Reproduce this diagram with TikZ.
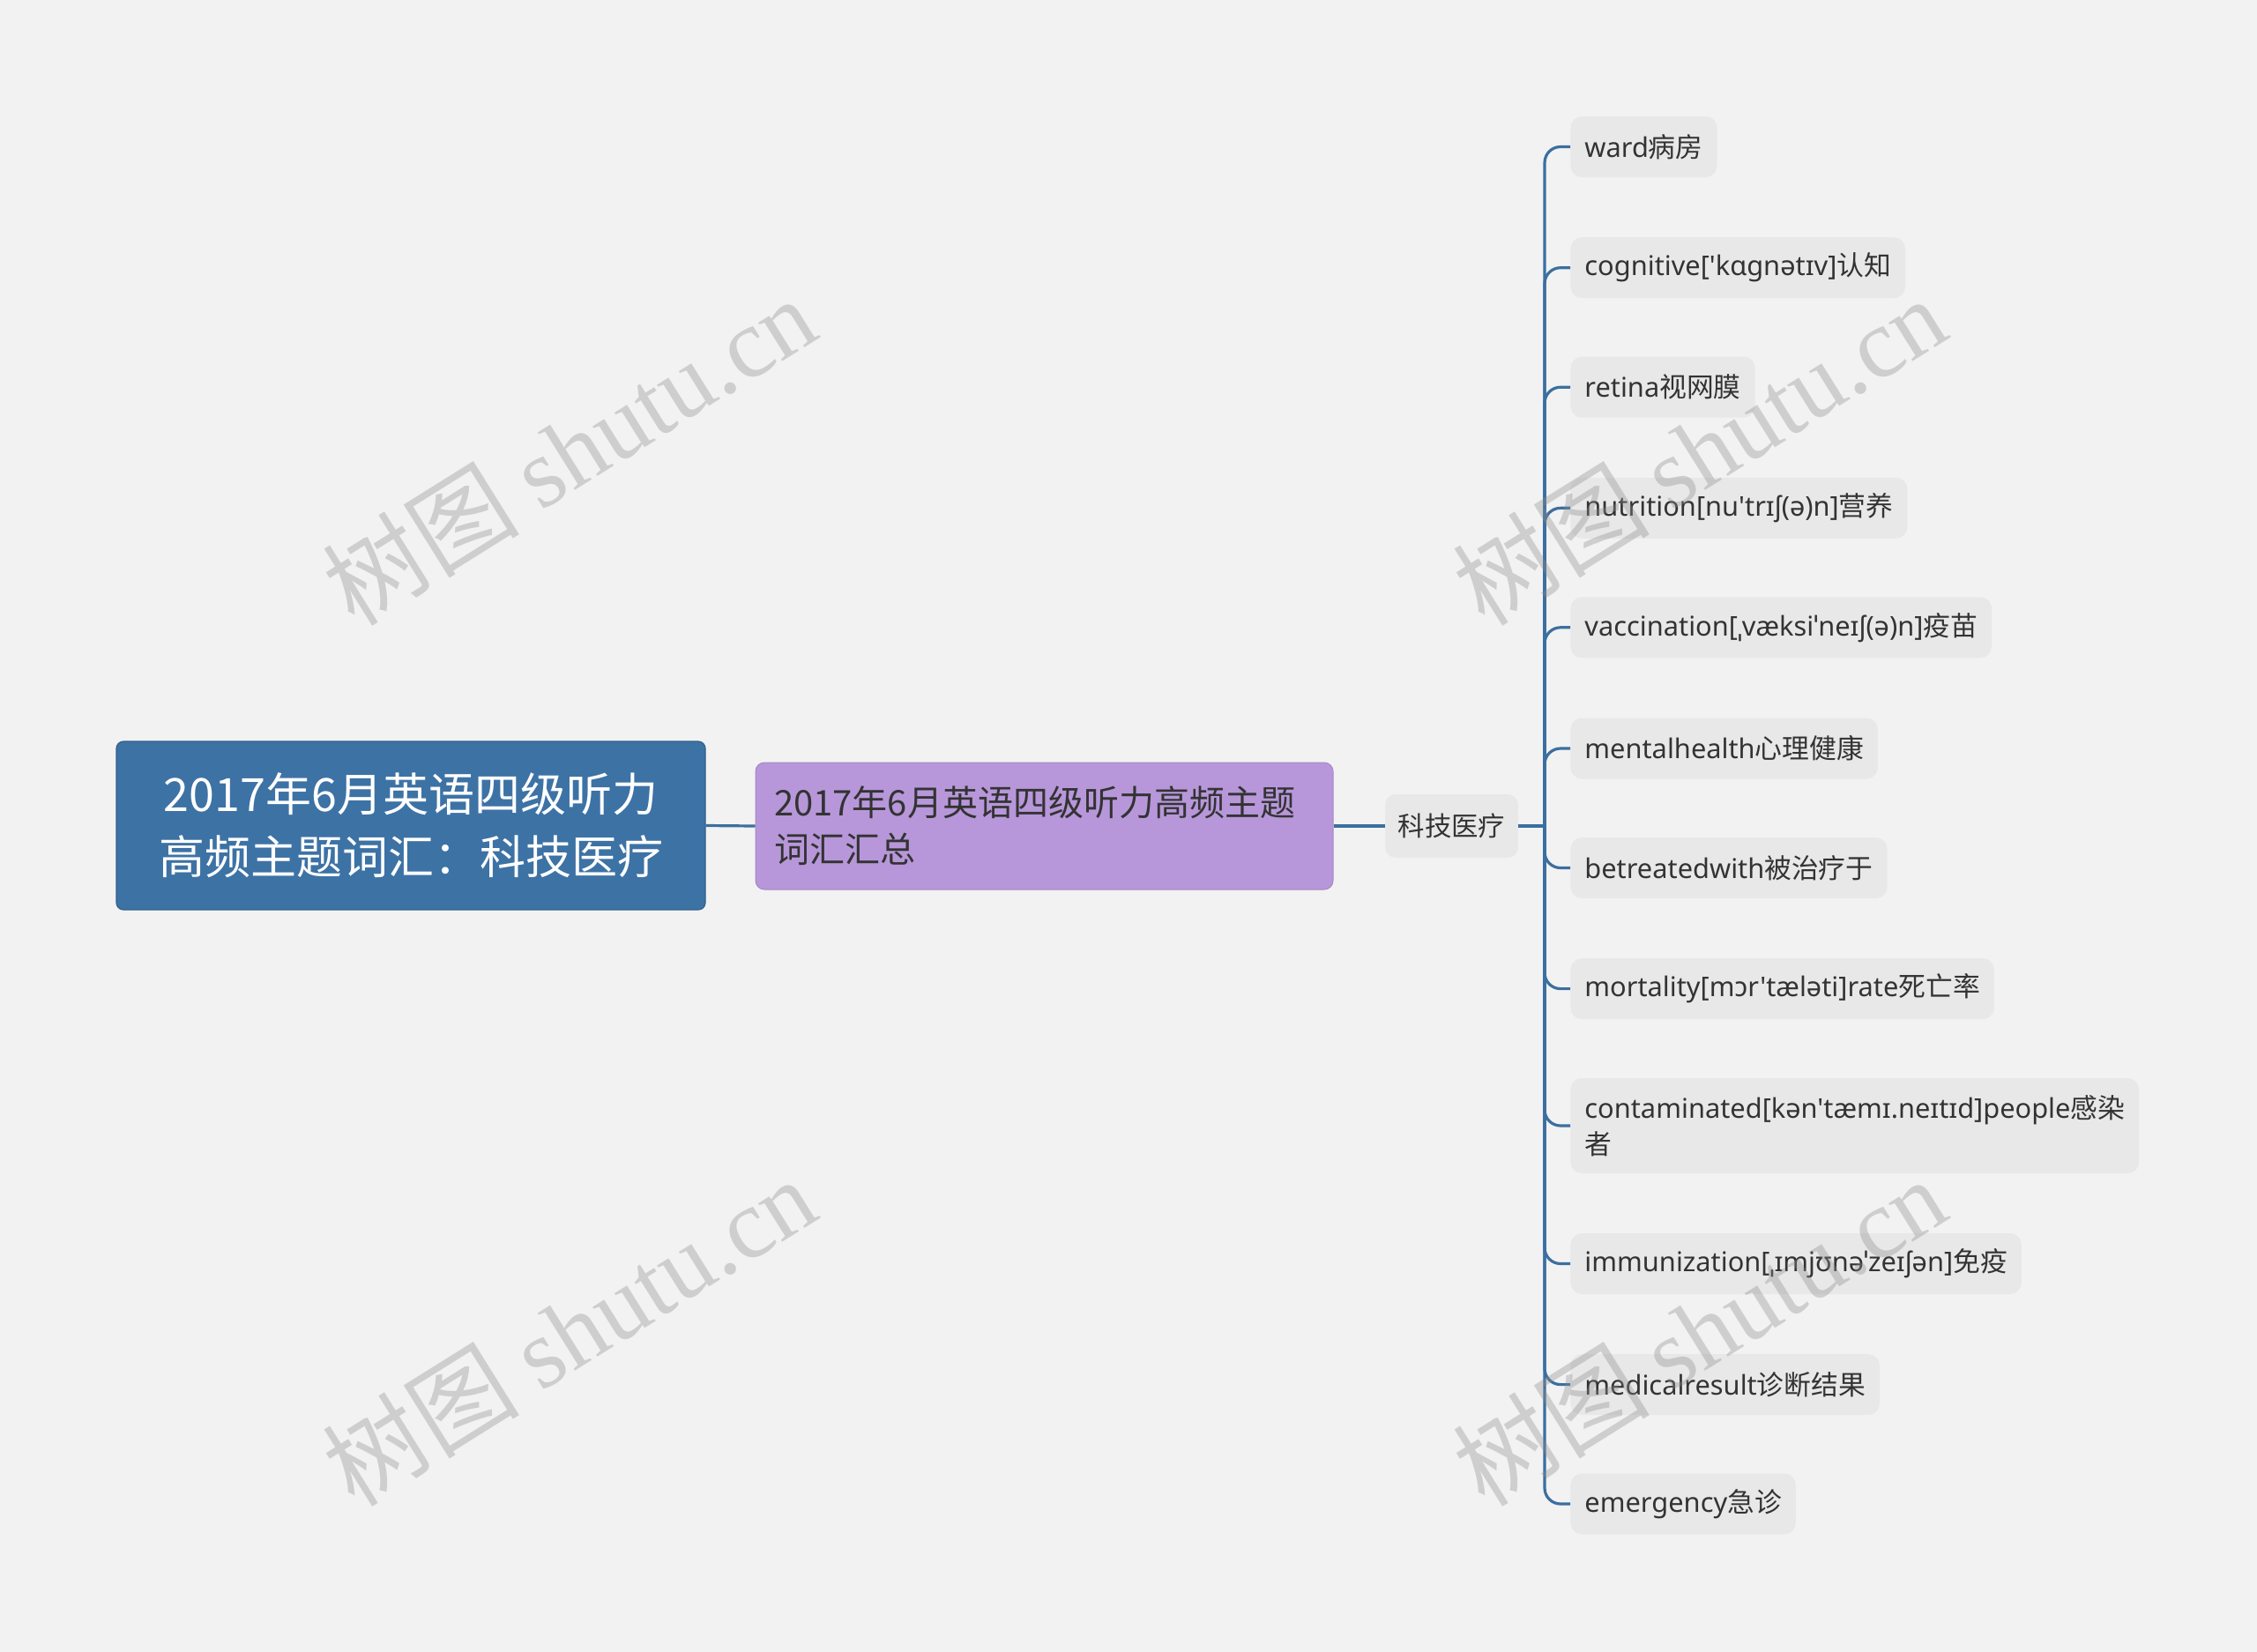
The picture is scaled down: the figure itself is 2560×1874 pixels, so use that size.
\documentclass[tikz,border=0pt]{standalone}
\usepackage{fontspec}
\newfontfamily\latinfont{Noto Sans}
\newfontfamily\cjk{Noto Sans CJK SC}
\newfontfamily\wmserif{Liberation Serif}
\newcommand{\zh}[1]{{\cjk #1}}
\definecolor{bgc}{HTML}{F2F2F2}
\definecolor{rootc}{HTML}{3D72A5}
\definecolor{purc}{HTML}{B797DA}
\definecolor{leafc}{HTML}{E8E8E8}
\definecolor{linec}{HTML}{3B6FA0}
\definecolor{txtc}{HTML}{333333}
\tikzset{
  rootbox/.style={draw=rootc!85!black, line width=0.6pt, fill=rootc, rounded corners=4pt, text=white, align=center,
     minimum width=334pt, minimum height=95.5pt, font=\cjk\fontsize{26pt}{35.5pt}\selectfont},
  purbox/.style={draw=purc!90!black, line width=0.5pt, fill=purc, rounded corners=5pt, text=txtc, align=left,
     text width=306.5pt, inner xsep=10.5pt, minimum height=72pt, font=\cjk\fontsize{20pt}{26.5pt}\selectfont},
  midbox/.style={fill=leafc, rounded corners=6pt, text=txtc, minimum width=75.5pt, minimum height=36pt,
     font=\cjk\fontsize{15.2pt}{20pt}\selectfont},
  leafbox/.style={fill=leafc, rounded corners=6.5pt, text=txtc, anchor=west, inner xsep=8pt, minimum height=34.5pt,
     align=left, font=\latinfont\fontsize{15.4pt}{20.5pt}\selectfont},
  conn/.style={draw=linec, line width=1.6pt},
  wm/.style={text=black!45, opacity=0.35, rotate=32, font=\fontsize{56pt}{56pt}\selectfont}
}
\begin{document}
\begin{tikzpicture}[x=0.5pt,y=-0.5pt]
\fill[bgc] (0,0) rectangle (2560,1874);
\useasboundingbox (0,0) rectangle (2560,1874);

\node[rootbox] (root) at (466,936.5) {2017年6月英语四级听力\\高频主题词汇：科技医疗};
\node[purbox] (sum) at (1184.5,937) {2017年6月英语四级听力高频主题\\词汇汇总};
\node[midbox] (mid) at (1646.5,937) {科技医疗};

\node[leafbox] (l1) at (1781,166.5) {ward\zh{病房}};
\node[leafbox] (l2) at (1781,303.7) {cognitive['kɑgnətɪv]\zh{认知}};
\node[leafbox] (l3) at (1781,439.2) {retina\zh{视网膜}};
\node[leafbox] (l4) at (1781,576.3) {nutrition[nu'trɪʃ(ə)n]\zh{营养}};
\node[leafbox] (l5) at (1781,711.8) {vaccination[ˌvæksiˈneɪʃ(ə)n]\zh{疫苗}};
\node[leafbox] (l6) at (1781,849) {mentalhealth\zh{心理健康}};
\node[leafbox] (l7) at (1781,984.5) {betreatedwith\zh{被治疗于}};
\node[leafbox] (l8) at (1781,1121.6) {mortality[mɔr'tæləti]rate\zh{死亡率}};
\node[leafbox, minimum height=54pt] (l9) at (1781,1277) {contaminated[kən'tæmɪ.neɪtɪd]people\zh{感染}\\\zh{者}};
\node[leafbox] (l10) at (1781,1433.5) {immunization[ˌɪmjʊnəˈzeɪʃən]\zh{免疫}};
\node[leafbox] (l11) at (1781,1570.6) {medicalresult\zh{诊断结果}};
\node[leafbox] (l12) at (1781,1706) {emergency\zh{急诊}};

\coordinate (trunk) at (1752,937);
\draw[conn] (root.east) -- (sum.west);
\draw[conn] (sum.east) -- (mid.west);
\draw[conn] (mid.east) -- (trunk);
\foreach \i in {1,...,12} {
  \draw[conn, rounded corners=9pt] (trunk) |- (l\i.west);
}

\node[wm] (w1) at (645,511) {\cjk 树图 \wmserif shutu.cn};
\node[wm] (w2) at (1927,511) {\cjk 树图 \wmserif shutu.cn};
\node[wm] (w3) at (645,1510) {\cjk 树图 \wmserif shutu.cn};
\node[wm] (w4) at (1927,1510) {\cjk 树图 \wmserif shutu.cn};
\end{tikzpicture}
\end{document}
